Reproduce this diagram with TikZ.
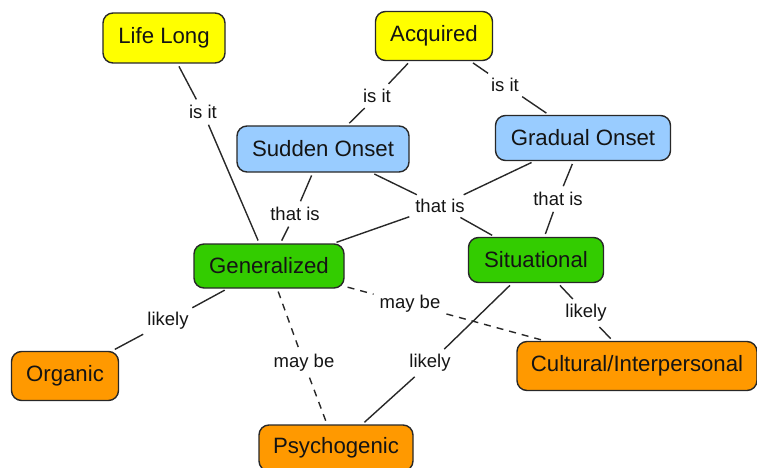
\documentclass[tikz,border=0pt]{standalone}
\usepackage{fontspec}
\setmainfont{Liberation Sans}
\definecolor{cyel}{RGB}{255,255,0}
\definecolor{cblue}{RGB}{153,204,255}
\definecolor{cgreen}{RGB}{51,204,0}
\definecolor{corange}{RGB}{255,153,0}
\definecolor{cborder}{RGB}{40,40,40}
\definecolor{ctext}{RGB}{20,20,20}
\definecolor{cline}{RGB}{40,40,40}
\begin{document}
\begin{tikzpicture}[x=1pt,y=-1pt,
  concept/.style={draw=cborder, line width=1.4pt, rounded corners=10pt,
    font=\fontsize{22.2}{24}\selectfont, text=ctext, inner sep=0pt},
  lbl/.style={font=\fontsize{18.5}{20}\selectfont, text=ctext, inner sep=3pt},
  conn/.style={draw=cline, line width=1.4pt, shorten <=3pt, shorten >=3pt},
  dconn/.style={conn, dash pattern=on 7pt off 6pt}]
\useasboundingbox (0,0) rectangle (757,468);
% concepts
\node[concept, fill=cyel, minimum width=122pt, minimum height=50pt] (life) at (164,38) {Life Long};
\node[concept, fill=cyel, minimum width=117pt, minimum height=49pt] (acq) at (434,36) {Acquired};
\node[concept, fill=cblue, minimum width=172pt, minimum height=46pt] (sud) at (323,149) {Sudden Onset};
\node[concept, fill=cblue, minimum width=175pt, minimum height=45pt] (grad) at (583,138) {Gradual Onset};
\node[concept, fill=cgreen, minimum width=150pt, minimum height=44pt] (gen) at (269,266) {Generalized};
\node[concept, fill=cgreen, minimum width=135pt, minimum height=45pt] (sit) at (536,260) {Situational};
\node[concept, fill=corange, minimum width=107pt, minimum height=49pt] (org) at (65,376) {Organic};
\node[concept, fill=corange, minimum width=240pt, minimum height=49pt] (cult) at (637,366) {Cultural/Interpersonal};
\node[concept, fill=corange, minimum width=154pt, minimum height=46pt] (psy) at (336,448) {Psychogenic};
% linking phrases
\node[lbl] (l1) at (203,112) {is it};
\node[lbl] (l2) at (377,96) {is it};
\node[lbl] (l3) at (505,85) {is it};
\node[lbl] (l4) at (295,214) {that is};
\node[lbl] (l5) at (440,206) {that is};
\node[lbl] (l6) at (558,199) {that is};
\node[lbl] (l7) at (168,321) {likely};
\node[lbl] (l8) at (304,363) {may be};
\node[lbl] (l9) at (410,304) {may be};
\node[lbl] (l10) at (430,363) {likely};
\node[lbl] (l11) at (586,313) {likely};
% connectors
\draw[conn] (life) -- (l1);
\draw[conn] (l1) -- (gen);
\draw[conn] (acq) -- (l2);
\draw[conn] (l2) -- (sud);
\draw[conn] (acq) -- (l3);
\draw[conn] (l3) -- (grad);
\draw[conn] (sud) -- (l4);
\draw[conn] (l4) -- (gen);
\draw[conn] (sud) -- (l5);
\draw[conn] (grad) -- (l5);
\draw[conn] (l5) -- (gen);
\draw[conn] (l5) -- (sit);
\draw[conn] (grad) -- (l6);
\draw[conn] (l6) -- (sit);
\draw[conn] (gen) -- (l7);
\draw[conn] (l7) -- (org);
\draw[dconn] (gen) -- (l8);
\draw[dconn] (l8) -- (psy);
\draw[dconn] (gen) -- (l9);
\draw[dconn] (l9) -- (cult);
\draw[conn] (sit) -- (l10);
\draw[conn] (l10) -- (psy);
\draw[conn] (sit) -- (l11);
\draw[conn] (l11) -- (cult);
\end{tikzpicture}
\end{document}
